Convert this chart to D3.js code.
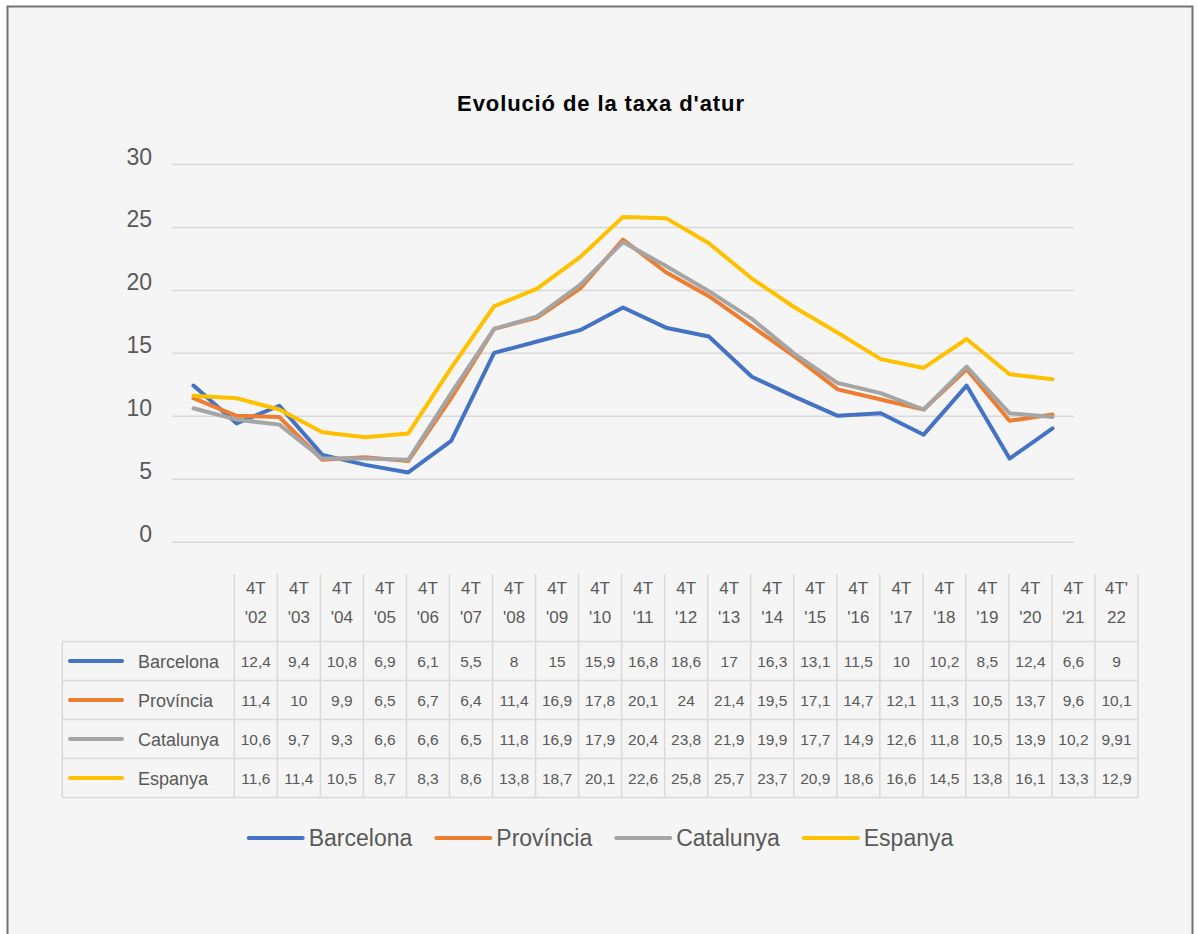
<!DOCTYPE html>
<html>
<head>
<meta charset="utf-8">
<script src="https://cdn.jsdelivr.net/npm/d3@7"></script>
<style>
  html, body { margin: 0; padding: 0; background: #ffffff; }
  svg text { font-family: "Liberation Sans", Arial, Helvetica, sans-serif; fill: #595959; }
</style>
</head>
<body>
<script>
//#### DATA ####
var periodTop = ["4T","4T","4T","4T","4T","4T","4T","4T","4T","4T","4T","4T","4T","4T","4T","4T","4T","4T","4T","4T","4T'"];
var periodBottom = ["'02","'03","'04","'05","'06","'07","'08","'09","'10","'11","'12","'13","'14","'15","'16","'17","'18","'19","'20","'21","22"];

var barcelona = [12.4, 9.4, 10.8, 6.9, 6.1, 5.5, 8, 15, 15.9, 16.8, 18.6, 17, 16.3, 13.1, 11.5, 10, 10.2, 8.5, 12.4, 6.6, 9];
var provincia = [11.4, 10, 9.9, 6.5, 6.7, 6.4, 11.4, 16.9, 17.8, 20.1, 24, 21.4, 19.5, 17.1, 14.7, 12.1, 11.3, 10.5, 13.7, 9.6, 10.1];
var catalunya = [10.6, 9.7, 9.3, 6.6, 6.6, 6.5, 11.8, 16.9, 17.9, 20.4, 23.8, 21.9, 19.9, 17.7, 14.9, 12.6, 11.8, 10.5, 13.9, 10.2, 9.91];
var espanya = [11.6, 11.4, 10.5, 8.7, 8.3, 8.6, 13.8, 18.7, 20.1, 22.6, 25.8, 25.7, 23.7, 20.9, 18.6, 16.6, 14.5, 13.8, 16.1, 13.3, 12.9];

var seriesNames = ["Barcelona", "Província", "Catalunya", "Espanya"];
var seriesColors = ["#4472c4", "#ed7d31", "#a5a5a5", "#ffc000"];
var yTicks = [0, 5, 10, 15, 20, 25, 30];

var series = [barcelona, provincia, catalunya, espanya].map(function(v, i) {
  return {name: seriesNames[i], color: seriesColors[i], values: v};
});
var idx = periodBottom.map(function(d, i) { return i; });

// #### layout ####
var width_outer = 1197;
var height_outer = 934;
var gridColor = "#d9d9d9";

var svg = d3.select("body").append("svg")
  .attr("width", width_outer)
  .attr("height", height_outer);

// frame
svg.append("rect")
  .attr("x", 7.5).attr("y", 6.5)
  .attr("width", 1185).attr("height", 960)
  .attr("fill", "#f5f5f5")
  .attr("stroke", "#737373")
  .attr("stroke-width", 2);

// title
svg.append("text")
  .attr("x", 601).attr("y", 111)
  .attr("text-anchor", "middle")
  .style("font-size", "22px")
  .style("font-weight", "bold")
  .style("letter-spacing", "0.9px")
  .style("fill", "#000")
  .text("Evolució de la taxa d'atur");

// scales
var x = d3.scaleBand().domain(idx).range([172, 1074]);
var y = d3.scaleLinear().domain([0, 30]).range([541.7, 164]);

// y axis + gridlines
var yAxis = d3.axisLeft(y)
  .tickValues(yTicks)
  .tickSize(-(1074 - 172))
  .tickPadding(20)
  .tickFormat(d3.format("d"));

var gy = svg.append("g")
  .attr("transform", "translate(172,0)")
  .call(yAxis);
gy.select(".domain").remove();
gy.selectAll(".tick line")
  .attr("stroke", gridColor)
  .attr("stroke-width", 1.5);
gy.selectAll(".tick text")
  .attr("dy", "0")
  .style("font-size", "23px")
  .style("fill", "#595959");

// lines
var line = d3.line()
  .x(function(d, i) { return x(i) + x.bandwidth() / 2; })
  .y(function(d) { return y(d); });

svg.selectAll(".series")
  .data(series)
  .enter().append("path")
  .attr("class", "series")
  .attr("d", function(d) { return line(d.values); })
  .attr("fill", "none")
  .attr("stroke", function(d) { return d.color; })
  .attr("stroke-width", 4)
  .attr("stroke-linejoin", "round")
  .attr("stroke-linecap", "round");

// #### data table ####
var tLeft = 62.3;
var col = d3.scaleBand().domain(idx).range([234.3, 1138]);
var rowTop = 641.5, rowH = 39, headTop = 574;
var tBottom = rowTop + rowH * series.length;
var tbl = svg.append("g");

// header vertical lines
idx.concat([idx.length]).forEach(function(i) {
  var xx = i < idx.length ? col(i) : col.range()[1];
  tbl.append("line")
    .attr("x1", xx).attr("x2", xx)
    .attr("y1", headTop).attr("y2", tBottom)
    .attr("stroke", gridColor).attr("stroke-width", 1.5);
});
// left border of label column
tbl.append("line")
  .attr("x1", tLeft).attr("x2", tLeft)
  .attr("y1", rowTop).attr("y2", tBottom)
  .attr("stroke", gridColor).attr("stroke-width", 1.5);
// row lines
d3.range(series.length + 1).forEach(function(r) {
  tbl.append("line")
    .attr("x1", tLeft).attr("x2", col.range()[1])
    .attr("y1", rowTop + r * rowH).attr("y2", rowTop + r * rowH)
    .attr("stroke", gridColor).attr("stroke-width", 1.5);
});

// header texts
tbl.selectAll(".hd1")
  .data(idx).enter().append("text")
  .attr("x", function(i) { return col(i) + col.bandwidth() / 2; })
  .attr("y", 594)
  .attr("text-anchor", "middle")
  .style("font-size", "17px")
  .text(function(i) { return periodTop[i]; });
tbl.selectAll(".hd2")
  .data(idx).enter().append("text")
  .attr("x", function(i) { return col(i) + col.bandwidth() / 2; })
  .attr("y", 623)
  .attr("text-anchor", "middle")
  .style("font-size", "17px")
  .text(function(i) { return periodBottom[i]; });

// rows
series.forEach(function(s, r) {
  var cy = rowTop + r * rowH + rowH / 2;
  tbl.append("line")
    .attr("x1", 70).attr("x2", 122)
    .attr("y1", cy).attr("y2", cy)
    .attr("stroke", s.color).attr("stroke-width", 4)
    .attr("stroke-linecap", "round");
  tbl.append("text")
    .attr("x", 138).attr("y", cy + 6.5)
    .style("font-size", "18px")
    .text(s.name);
  s.values.forEach(function(v, i) {
    tbl.append("text")
      .attr("x", col(i) + col.bandwidth() / 2)
      .attr("y", cy + 5.5)
      .attr("text-anchor", "middle")
      .style("font-size", "15.5px")
      .text(String(v).replace(".", ","));
  });
});

// #### legend ####
var legend = svg.append("g");
var lx = 0;
series.forEach(function(s) {
  var g = legend.append("g").attr("transform", "translate(" + lx + ",0)");
  g.append("line")
    .attr("x1", 0).attr("x2", 54)
    .attr("y1", 0).attr("y2", 0)
    .attr("stroke", s.color).attr("stroke-width", 4)
    .attr("stroke-linecap", "round");
  var t = g.append("text")
    .attr("x", 60).attr("y", 8)
    .style("font-size", "23px")
    .text(s.name);
  lx += 60 + t.node().getComputedTextLength() + 24;
});
var legW = lx - 24;
legend.attr("transform", "translate(" + (601 - legW / 2) + ",838)");
</script>
</body>
</html>
